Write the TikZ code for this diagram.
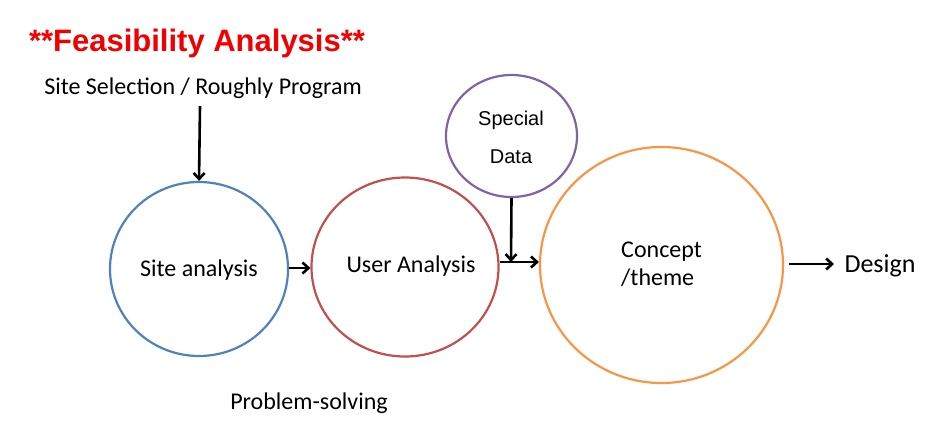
\documentclass[tikz,border=0pt]{standalone}
\usepackage{fontspec}
\setmainfont{Carlito}
\newfontfamily\arialf{Liberation Sans}
\usetikzlibrary{shapes.geometric,arrows.meta}
\definecolor{oblue}{HTML}{4F81BD}
\definecolor{ored}{HTML}{C0504D}
\definecolor{opurple}{HTML}{8064A2}
\definecolor{oorange}{HTML}{F79646}
\definecolor{tred}{HTML}{F00000}
\begin{document}
\begin{tikzpicture}[x=1pt,y=-1pt,
  bubble/.style={ellipse,draw,line width=2.2pt,inner sep=0pt},
  lbl/.style={font=\fontsize{24}{28}\selectfont,inner sep=0pt,align=center},
  conn/.style={-{Straight Barb[length=6pt,width=11pt]},line width=2.6pt}]
\useasboundingbox (0,0) rectangle (933,431);
\node[inner sep=0pt,text=tred,font=\arialf\bfseries\fontsize{31}{35}\selectfont] (title) at (197,43) {**Feasibility Analysis**};
\node[lbl] (site) at (203,88) {Site Selection / Roughly Program};
\node[bubble,draw=oblue,minimum width=178pt,minimum height=174pt] (sa) at (199,269) {};
\node[lbl] at (199,270) {Site analysis};
\node[bubble,draw=ored,minimum width=187pt,minimum height=179pt] (ua) at (405,267) {};
\node[lbl] at (411,266) {User Analysis};
\node[bubble,draw=opurple,minimum width=131pt,minimum height=122pt] (sd) at (511.5,136) {};
\node[lbl,font=\arialf\fontsize{20}{24}\selectfont] at (511,120) {Special};
\node[lbl,font=\arialf\fontsize{20}{24}\selectfont] at (511,157) {Data};
\node[bubble,draw=oorange,minimum width=243pt,minimum height=236pt] (ct) at (661.5,265) {};
\node[lbl,align=left,anchor=west] at (621,264) {Concept\\/theme};
\node[lbl,font=\fontsize{26}{30}\selectfont] (design) at (880,266) {Design};
\node[lbl] (ps) at (309,403) {Problem-solving};
\coordinate (j) at (511,262);
\coordinate (d0) at (789,264);
\coordinate (d1) at (834,264);
\draw[conn] (200,106) -- (sa.north);
\draw[conn] (sa.east |- 0,268) -- (ua.west |- 0,268);
\draw[line width=2.6pt] (ua.east |- j) -- (j);
\draw[conn] (j) -- (ct.west |- j);
\draw[conn] (sd.south) -- (j);
\draw[conn] (d0) -- (d1);
\end{tikzpicture}
\end{document}
